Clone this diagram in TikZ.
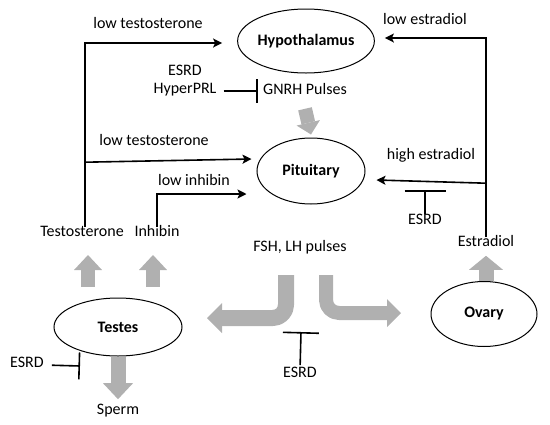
\documentclass[tikz,border=0pt]{standalone}
\usepackage{fontspec}
\setmainfont{Carlito}
\usetikzlibrary{arrows.meta,shapes.geometric}
\definecolor{blkgray}{RGB}{176,176,176}
\tikzset{
  lbl/.style={inner sep=0pt, font=\fontsize{16}{18}\selectfont, text height=0.72em, text depth=0.2em},
  organ/.style={draw, ellipse, line width=1pt, inner sep=0pt, font=\fontsize{16}{18}\selectfont\bfseries},
  conn/.style={line width=1.6pt, -{Stealth[length=9pt,width=9pt,inset=2pt]}},
  inh/.style={line width=1.6pt, -{Bar[width=#1]}},
  blk/.style={draw=blkgray, line width=#1, line join=round},
}
\begin{document}
\begin{tikzpicture}[x=1pt,y=-1pt]
\useasboundingbox (0,0) rectangle (550,424);
% organs
\node[organ, minimum width=128pt, minimum height=64pt] (hypo) at (306,41) {Hypothalamus};
\node[organ, minimum width=108pt, minimum height=66pt] (pit) at (311,171) {Pituitary};
\node[organ, minimum width=128pt, minimum height=58pt] (testes) at (118,327) {Testes};
\node[organ, minimum width=106pt, minimum height=65pt] (ovary) at (484,314) {Ovary};
% labels
\node[lbl] (lt1) at (148,26) {low testosterone};
\node[lbl, align=center] (hp) at (185,91) {ESRD\\HyperPRL};
\node[lbl] (gnrh) at (305,92) {GNRH Pulses};
\node[lbl] (lt2) at (154,143) {low testosterone};
\node[lbl] (linh) at (194,183) {low inhibin};
\node[lbl] (lest) at (425,22) {low estradiol};
\node[lbl] (hest) at (431,157) {high estradiol};
\node[lbl] (esrdr) at (425,222) {ESRD};
\node[lbl] (testo) at (82,234) {Testosterone};
\node[lbl] (inhib) at (157,234) {Inhibin};
\node[lbl] (fsh) at (300,249) {FSH, LH pulses};
\node[lbl] (estr) at (486,244) {Estradiol};
\node[lbl] (esrdl) at (27,365) {ESRD};
\node[lbl] (esrdb) at (300,375) {ESRD};
\node[lbl] (sperm) at (118,412) {Sperm};
% feedback connectors
\draw[conn, shorten <=2pt] ([xshift=3pt]testo.north) |- ([xshift=-15pt,yshift=-2pt]hypo.west);
\draw[conn] ([xshift=3pt,yshift=67pt]testo.north) -- ([xshift=-5pt,yshift=12pt]pit.west);
\draw[conn, shorten <=2pt] (inhib.north) |- ([xshift=-10pt,yshift=-23pt]pit.west);
\draw[conn, shorten <=2pt] (estr.north) |- ([xshift=10pt,yshift=3pt]hypo.east);
\draw[conn] ([yshift=56pt]estr.north) -- ([xshift=11pt,yshift=-9pt]pit.east);
% inhibitions
\coordinate (b1) at (258,91);
\coordinate (b2) at (425,190);
\coordinate (b3) at (301,332);
\coordinate (b4) at (80,366);
\draw[inh=24pt] ([xshift=7pt]hp.east) -- (b1);
\draw[inh=41pt, shorten <=3pt] (esrdr.north) -- (b2);
\draw[inh=36pt, shorten <=5pt] (esrdb.north) -- (b3);
\draw[inh=27pt, shorten <=8pt] (esrdl.east) -- (b4);
% block arrows
\draw[blk=14pt, -{Triangle[length=12pt,width=24pt,line width=0pt]}] ([yshift=-12pt]gnrh.south) -- ([yshift=3pt]pit.north);
\draw[blk=14pt, -{Triangle[length=15pt,width=28pt,line width=0pt]}] (88,287) -- (88,255);
\draw[blk=14pt, -{Triangle[length=15pt,width=28pt,line width=0pt]}] (153,287) -- (153,255);
\draw[blk=15pt, -{Triangle[length=16pt,width=30pt,line width=0pt]}] (testes.south) -- ([yshift=8pt]sperm.north);
\draw[blk=15pt, -{Triangle[length=14pt,width=34pt,line width=0pt]}] (ovary.north -| estr) -- ([yshift=-7pt]estr.south);
\draw[blk=16pt, rounded corners=13pt, -{Triangle[length=15pt,width=30pt,line width=0pt]}] (286,275) -- (286,318) -- (207,318);
\draw[blk=14pt, rounded corners=13pt, -{Triangle[length=14pt,width=28pt,line width=0pt]}] (326,275) -- (326,313) -- (401,313);
\end{tikzpicture}
\end{document}
